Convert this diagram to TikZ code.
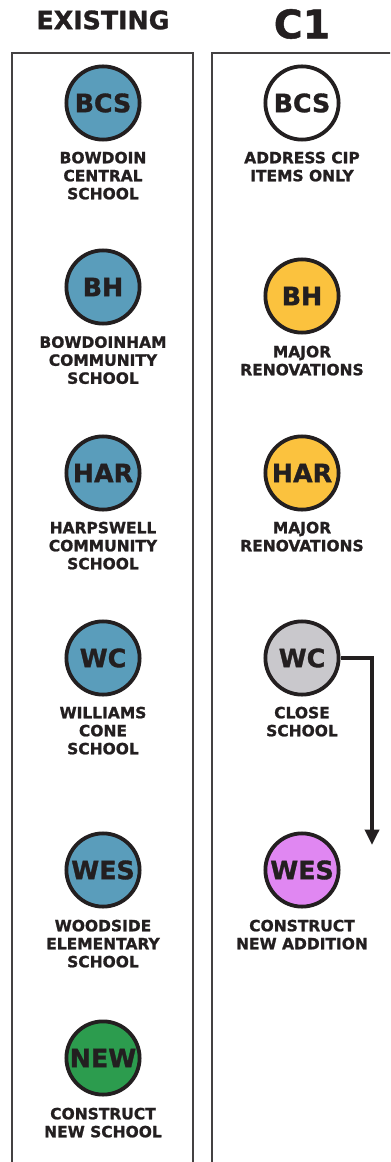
\documentclass[tikz,border=0pt]{standalone}
\usepackage{fontspec}
\setmainfont{DejaVu Sans}[BoldFeatures={FakeBold=1.2}]
\usetikzlibrary{arrows.meta}

\definecolor{inkdark}{HTML}{231F20}
\definecolor{schoolblue}{HTML}{5A9DBB}
\definecolor{renoyellow}{HTML}{FBC23E}
\definecolor{closegray}{HTML}{C9C8CC}
\definecolor{addpink}{HTML}{E087F2}
\definecolor{newgreen}{HTML}{2C9C4E}

\begin{document}
\begin{tikzpicture}[x=0.025cm, y=-0.025cm,
  school/.style={circle, draw=inkdark, line width=2.7pt, minimum size=1.83cm, inner sep=0pt,
    text=inkdark, font=\fontsize{18}{18}\selectfont\bfseries},
  caption/.style={anchor=north, align=center, inner sep=0pt, text=inkdark,
    font=\fontsize{11}{12.8}\selectfont\bfseries},
  heading/.style={text=inkdark, inner sep=0pt, font=\bfseries}]
  \useasboundingbox (0,0) rectangle (390,1162);
  \clip (0,0) rectangle (390,1162);

  % Column frames
  \draw[inkdark!85, line width=0.8pt] (12,1180) -- (12,53) -- (193,53) -- (193,1180);
  \draw[inkdark!85, line width=0.8pt] (212,1180) -- (212,53) -- (394,53) -- (394,1180);

  % Headings
  \node[heading, font=\fontsize{18}{18}\selectfont\bfseries] (hexist) at (103,20) {EXISTING};
  \node[heading, font=\fontsize{28}{28}\selectfont\bfseries] (hcone) at (302,24) {C1};

  % Existing column
  \node[school, fill=schoolblue] (bcs-e) at (103,103) {BCS};
  \node[caption] (bcs-e-t) at (103,151.5) {BOWDOIN\\CENTRAL\\SCHOOL};
  \node[school, fill=schoolblue] (bh-e) at (103,287) {BH};
  \node[caption] (bh-e-t) at (103,336) {BOWDOINHAM\\COMMUNITY\\SCHOOL};
  \node[school, fill=schoolblue] (har-e) at (103,473) {HAR};
  \node[caption] (har-e-t) at (103,521.5) {HARPSWELL\\COMMUNITY\\SCHOOL};
  \node[school, fill=schoolblue] (wc-e) at (103,658) {WC};
  \node[caption] (wc-e-t) at (103,706.5) {WILLIAMS\\CONE\\SCHOOL};
  \node[school, fill=schoolblue] (wes-e) at (103,870) {WES};
  \node[caption] (wes-e-t) at (103,919.5) {WOODSIDE\\ELEMENTARY\\SCHOOL};
  \node[school, fill=newgreen] (new-e) at (103,1058) {NEW};
  \node[caption] (new-e-t) at (103,1107.5) {CONSTRUCT\\NEW SCHOOL};

  % C1 column
  \node[school, fill=white] (bcs-c) at (302,103) {BCS};
  \node[caption] (bcs-c-t) at (302,151.5) {ADDRESS CIP\\ITEMS ONLY};
  \node[school, fill=renoyellow] (bh-c) at (302,296) {BH};
  \node[caption] (bh-c-t) at (302,345.5) {MAJOR\\RENOVATIONS};
  \node[school, fill=renoyellow] (har-c) at (302,473) {HAR};
  \node[caption] (har-c-t) at (302,521.5) {MAJOR\\RENOVATIONS};
  \node[school, fill=closegray] (wc-c) at (302,658) {WC};
  \node[caption] (wc-c-t) at (302,706.5) {CLOSE\\SCHOOL};
  \node[school, fill=addpink] (wes-c) at (302,870) {WES};
  \node[caption] (wes-c-t) at (302,919.5) {CONSTRUCT\\NEW ADDITION};

  % Move to WES
  \coordinate (wc-to) at (372,845);
  \draw[inkdark, line width=2.6pt, -{Triangle[length=11pt, width=10pt]}] (wc-c.east) -| (wc-to);
\end{tikzpicture}
\end{document}
